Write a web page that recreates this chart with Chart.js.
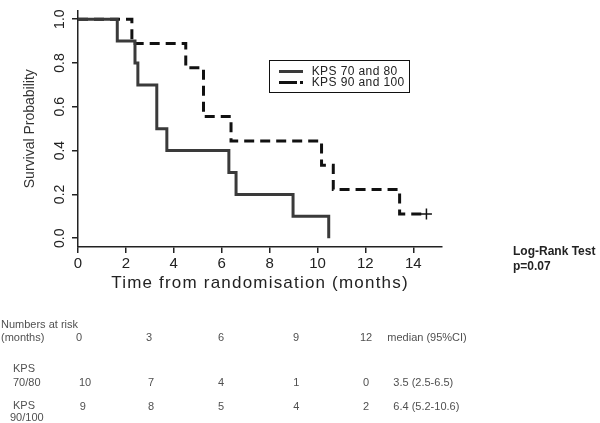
<!DOCTYPE html>
<html>
<head>
<meta charset="utf-8">
<script src="https://cdn.jsdelivr.net/npm/chart.js@4.4.1/dist/chart.umd.min.js"></script>
<style>
html,body{margin:0;padding:0;background:#fff;}
#wrap{position:relative;width:600px;height:423px;overflow:hidden;font-family:"Liberation Sans",Arial,sans-serif;}
#c{position:absolute;left:0;top:0;}
#table,#side{position:absolute;left:0;top:0;width:600px;height:423px;will-change:transform;}
.t{position:absolute;white-space:nowrap;font-size:11px;line-height:14px;height:14px;color:#505050;}
.ctr{transform:translateX(-50%);}
.lr{position:absolute;white-space:nowrap;font-size:12px;font-weight:bold;line-height:14px;height:14px;color:#222;}
.lg{position:absolute;white-space:nowrap;font-size:12px;line-height:14px;height:14px;color:#222;letter-spacing:0.4px;}
</style>
</head>
<body>
<div id="wrap">
  <canvas id="c" width="600" height="300"></canvas>
  <div id="side">
    <div id="legendBox" style="position:absolute;left:269px;top:59.5px;width:141px;height:33.5px;border:1.5px solid #111;box-sizing:border-box;"></div>
    <div style="position:absolute;left:278.5px;top:69.5px;width:24px;height:3px;background:#3a3a3a;"></div>
    <div style="position:absolute;left:278.5px;top:81px;width:18px;height:3px;background:#111;"></div>
    <div style="position:absolute;left:300px;top:81px;width:3px;height:3px;background:#111;"></div>
    <div id="lg1" class="lg" style="left:311.7px;top:64px;"></div>
    <div id="lg2" class="lg" style="left:311.7px;top:75.3px;"></div>
    <div class="lr" style="left:513px;top:243.7px;">Log-Rank Test</div>
    <div class="lr" style="left:513px;top:258.7px;">p=0.07</div>
  </div>
  <div id="table"></div>
</div>
<script>
// ---- data ----
const xTicks = [0, 2, 4, 6, 8, 10, 12, 14];
const yTicks = [0.0, 0.2, 0.4, 0.6, 0.8, 1.0];
const seriesNames = ['KPS 70 and 80', 'KPS 90 and 100'];
const timeKPS7080 = [0, 1.64, 2.38, 2.5, 3.29, 3.71, 6.3, 6.6, 8.98, 10.47];
const survKPS7080 = [1.0, 0.9, 0.8, 0.7, 0.5, 0.4, 0.3, 0.2, 0.1, 0.0];
const timeKPS90100 = [0, 2.25, 4.5, 5.24, 6.39, 10.17, 10.66, 13.43, 14.55];
const survKPS90100 = [1.0, 0.889, 0.778, 0.556, 0.444, 0.333, 0.222, 0.111, 0.111];
const censoredKPS90100 = [false, false, false, false, false, false, false, false, true];
const riskTimes = ['0', '3', '6', '9', '12'];
const riskKPS7080 = ['10', '7', '4', '1', '0'];
const riskKPS90100 = ['9', '8', '5', '4', '2'];
const medianKPS7080 = '3.5 (2.5-6.5)';
const medianKPS90100 = '6.4 (5.2-10.6)';

// ---- chart ----
Chart.defaults.font.family = "'Liberation Sans', Arial, sans-serif";
const axisColor = '#222';

const spacingPlugin = {
  id: 'spacing',
  beforeDraw(chart) {
    const xs = chart.scales.x;
    if (!xs.__patched) {
      const orig = xs.drawTitle;
      xs.drawTitle = function () {
        const c = this.ctx;
        c.save();
        c.letterSpacing = '1.2px';
        orig.call(this);
        c.restore();
      };
      xs.__patched = true;
    }
  }
};

new Chart(document.getElementById('c'), {
  type: 'line',
  data: {
    datasets: [
      {
        label: seriesNames[0],
        data: timeKPS7080.map((t, i) => ({ x: t, y: survKPS7080[i] })),
        borderColor: '#3a3a3a',
        borderWidth: 3,
        stepped: 'before',
        pointRadius: 0,
        fill: false,
        borderJoinStyle: 'miter'
      },
      {
        label: seriesNames[1],
        data: timeKPS90100.map((t, i) => ({ x: t, y: survKPS90100[i] })),
        borderColor: '#111',
        borderWidth: 3,
        borderDash: [10, 6],
        stepped: 'before',
        pointRadius: ctx => censoredKPS90100[ctx.dataIndex] ? 5.5 : 0,
        pointStyle: 'cross',
        pointBorderColor: '#111',
        pointBorderWidth: 1.5,
        fill: false,
        borderJoinStyle: 'miter'
      }
    ]
  },
  options: {
    responsive: false,
    animation: false,
    devicePixelRatio: 1,
    layout: { padding: { top: 5, right: 158, bottom: 0, left: 0 }, autoPadding: false },
    plugins: { legend: { display: false }, tooltip: { enabled: false } },
    scales: {
      x: {
        type: 'linear',
        min: 0,
        max: 15.2,
        afterBuildTicks: s => { s.ticks = xTicks.map(v => ({ value: v })); },
        afterFit: s => { s.height = 53; },
        grid: { drawOnChartArea: false, drawTicks: true, tickLength: 6, color: axisColor, lineWidth: 1.5 },
        border: { display: true, color: axisColor, width: 1.5 },
        ticks: { font: { size: 15 }, color: axisColor, padding: 2, maxRotation: 0, autoSkip: false, callback: v => String(v) },
        title: { display: true, text: 'Time from randomisation (months)', font: { size: 17 }, color: axisColor, padding: { top: 0, bottom: 6 } }
      },
      y: {
        type: 'linear',
        min: -0.04,
        max: 1.04,
        afterBuildTicks: s => { s.ticks = yTicks.map(v => ({ value: v })); },
        afterFit: s => { s.width = 78; },
        grid: { drawOnChartArea: false, drawTicks: true, tickLength: 6, color: axisColor, lineWidth: 1.5 },
        border: { display: true, color: axisColor, width: 1.5 },
        ticks: { font: { size: 14 }, color: axisColor, padding: 2, minRotation: 90, maxRotation: 90, crossAlign: 'center', autoSkip: false, callback: v => Number(v).toFixed(1) },
        title: { display: true, text: 'Survival Probability', font: { size: 14 }, color: '#333', padding: { top: 21.3, bottom: 0 } }
      }
    }
  },
  plugins: [spacingPlugin]
});

// ---- legend text ----
document.getElementById('lg1').textContent = seriesNames[0];
document.getElementById('lg2').textContent = seriesNames[1];

// ---- numbers at risk table ----
const table = document.getElementById('table');
function addText(txt, left, cy, center) {
  const d = document.createElement('div');
  d.className = 't' + (center ? ' ctr' : '');
  d.style.left = left + 'px';
  d.style.top = (cy - 7) + 'px';
  d.textContent = txt;
  table.appendChild(d);
}
const colHeader = [79, 149, 221, 296, 366];
const colRow1 = [85, 151, 221, 296.3, 366];
const colRow2 = [82.7, 151, 221, 296.3, 366];
addText('Numbers at risk', 1, 324, false);
addText('(months)', 1, 336.7, false);
riskTimes.forEach((v, i) => addText(v, colHeader[i], 336.5, true));
addText('median (95%CI)', 387.3, 336.5, false);
addText('KPS', 13, 368.3, false);
addText('70/80', 13, 381.7, false);
riskKPS7080.forEach((v, i) => addText(v, colRow1[i], 381.7, true));
addText(medianKPS7080, 393.3, 381.7, false);
addText('KPS', 13, 405, false);
addText('90/100', 10, 417.3, false);
riskKPS90100.forEach((v, i) => addText(v, colRow2[i], 406, true));
addText(medianKPS90100, 393.3, 406, false);
</script>
</body>
</html>
